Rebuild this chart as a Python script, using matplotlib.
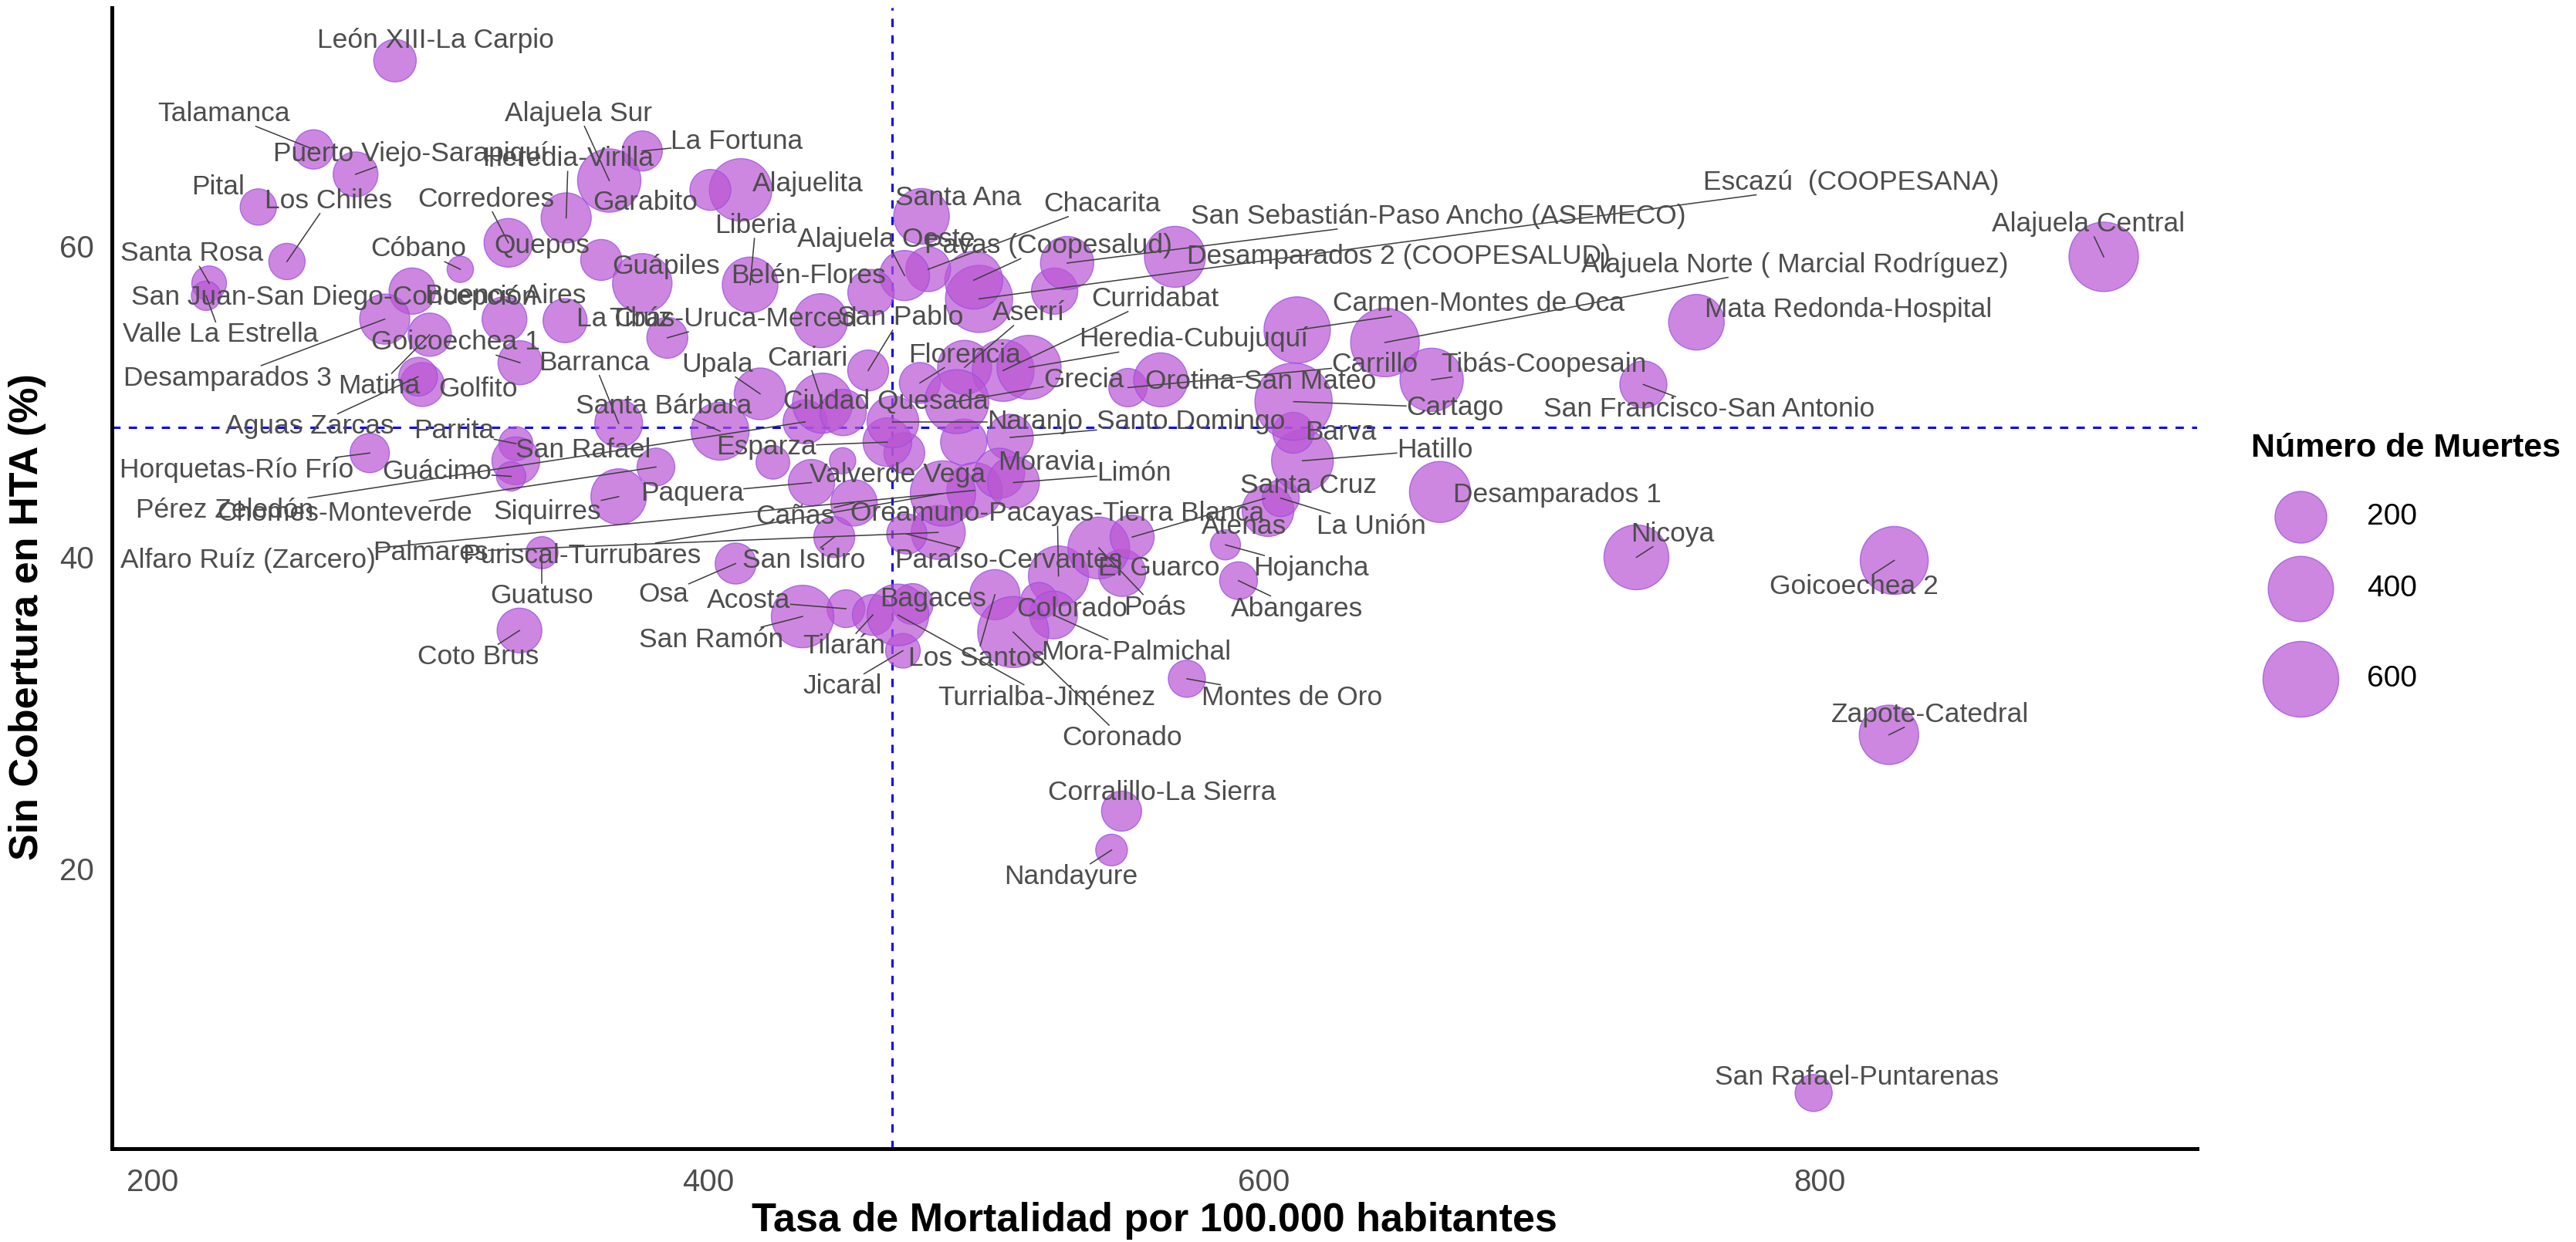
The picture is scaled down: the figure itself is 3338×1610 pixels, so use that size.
import numpy as np
import matplotlib
matplotlib.use("Agg")
import matplotlib.pyplot as plt

plt.rcParams['font.family'] = ['Liberation Sans', 'DejaVu Sans']

# ---------------- data ----------------
areas = [
    "León XIII-La Carpio", "Talamanca", "Puerto Viejo-Sarapiquí", "Pital", "Los Chiles",
    "Santa Rosa", "Valle La Estrella", "Cóbano", "Corredores", "Heredia-Virilla",
    "Alajuela Sur", "La Fortuna", "Quepos", "Guápiles", "San Juan-San Diego-Concepción",
    "Desamparados 3", "Matina", "Buenos Aires", "La Cruz", "Tibás-Uruca-Merced",
    "Goicoechea 1", "Golfito", "Aguas Zarcas", "Horquetas-Río Frío", "Parrita",
    "San Rafael", "Guácimo", "Barranca", "Santa Bárbara", "Chomes-Monteverde",
    "Pérez Zeledón", "Siquirres", "Paquera", "Alfaro Ruíz (Zarcero)", "Palmares",
    "Puriscal-Turrubares", "Guatuso", "Coto Brus", "Osa", "San Isidro",
    "Cañas", "Valverde Vega", "Acosta", "San Ramón", "Tilarán",
    "Bagaces", "Jicaral", "Los Santos", "Turrialba-Jiménez", "Paraíso-Cervantes",
    "Oreamuno-Pacayas-Tierra Blanca", "Colorado", "Mora-Palmichal", "Coronado", "El Guarco",
    "Poás", "Santa Cruz", "Atenas", "La Unión", "Hojancha",
    "Abangares", "Montes de Oro", "Corralillo-La Sierra", "Nandayure", "San Rafael-Puntarenas",
    "Zapote-Catedral", "Goicoechea 2", "Nicoya", "Desamparados 1", "Hatillo",
    "Barva", "Cartago", "San Francisco-San Antonio", "Tibás-Coopesain", "Carrillo",
    "Orotina-San Mateo", "Carmen-Montes de Oca", "Alajuela Norte ( Marcial Rodríguez)",
    "Mata Redonda-Hospital", "Alajuela Central",
    "Escazú  (COOPESANA)", "San Sebastián-Paso Ancho (ASEMECO)", "Desamparados 2 (COOPESALUD)",
    "Pavas (Coopesalud)", "Chacarita",
    "Alajuela Oeste", "Santa Ana", "Belén-Flores", "Liberia", "Alajuelita",
    "Garabito", "San Pablo", "Cariari", "Upala", "Ciudad Quesada",
    "Esparza", "Naranjo", "Santo Domingo", "Florencia", "Aserrí",
    "Curridabat", "Heredia-Cubujuquí", "Grecia", "Moravia", "Limón",
]

tasa = [
    287.2, 257.9, 273.0, 238.0, 248.3,
    220.3, 219.2, 310.7, 328.0, 348.8,
    364.3, 376.2, 361.4, 376.2, 293.4,
    283.5, 299.7, 326.6, 348.4, 385.2,
    332.2, 297.0, 295.5, 278.1, 330.7,
    330.7, 329.0, 367.7, 404.2, 381.1,
    434.8, 367.7, 437.1, 495.8, 482.7,
    484.4, 340.1, 332.0, 409.8, 445.3,
    452.4, 448.3, 449.5, 433.9, 459.2,
    473.5, 470.0, 503.1, 468.2, 471.4,
    526.0, 519.0, 524.2, 509.7, 548.9,
    540.5, 552.5, 601.4, 606.0, 586.1,
    590.8, 572.2, 548.7, 545.1, 797.8,
    824.9, 826.8, 734.0, 663.3, 613.8,
    610.5, 610.6, 736.5, 660.3, 551.0,
    562.8, 611.9, 643.5, 755.6, 902.2,
    497.4, 529.1, 567.9, 495.5, 479.1,
    470.6, 476.7, 458.5, 415.0, 411.6,
    400.7, 457.5, 441.1, 418.6, 448.5,
    464.4, 466.4, 508.6, 476.1, 492.2,
    506.1, 515.4, 489.4, 504.8, 509.8,
]

sin_cobertura = [
    71.9, 66.2, 64.6, 62.5, 59.0,
    57.6, 56.8, 58.5, 60.2, 61.8,
    64.2, 66.1, 59.1, 57.6, 57.1,
    55.3, 54.3, 55.3, 55.2, 54.1,
    52.5, 51.1, 51.6, 46.7, 47.3,
    46.2, 45.2, 48.6, 48.1, 45.8,
    48.7, 43.9, 44.8, 44.3, 41.6,
    44.1, 40.3, 35.3, 39.6, 41.3,
    43.5, 46.2, 36.7, 36.2, 36.3,
    37.0, 34.0, 37.6, 36.3, 41.5,
    38.8, 37.2, 36.3, 35.2, 39.0,
    40.6, 41.3, 43.0, 43.8, 40.8,
    38.5, 32.2, 23.7, 21.2, 5.6,
    28.6, 39.8, 40.0, 44.2, 46.2,
    48.0, 50.0, 51.1, 51.4, 50.9,
    51.4, 54.6, 53.8, 55.1, 59.3,
    56.6, 58.9, 59.3, 57.8, 58.5,
    58.1, 61.9, 57.0, 57.5, 63.6,
    63.6, 52.0, 49.9, 50.5, 49.3,
    47.4, 48.7, 47.7, 51.2, 52.2,
    52.0, 52.2, 50.0, 45.4, 44.8,
]

muertes = [
    103, 77, 124, 56, 56,
    46, 20, 10, 164, 181,
    366, 83, 90, 305, 139,
    181, 110, 124, 117, 90,
    117, 117, 72, 77, 42,
    155, 20, 155, 282, 66,
    117, 250, 139, 250, 229,
    400, 32, 124, 90, 90,
    139, 10, 66, 353, 90,
    90, 46, 181, 341, 83,
    316, 60, 155, 505, 147,
    341, 117, 200, 60, 23,
    66, 61, 83, 30, 61,
    305, 447, 392, 329, 341,
    90, 632, 147, 366, 70,
    229, 419, 460, 250, 475,
    433, 219, 329, 282, 124,
    181, 250, 139, 250, 353,
    90, 90, 316, 200, 139,
    164, 200, 139, 90, 229,
    341, 379, 379, 181, 200,
]

# areas whose labels were not placed
tasa_sin_etiqueta = [440.4, 470.5, 491.9, 423.2, 524.6]
cob_sin_etiqueta = [55.2, 46.7, 47.4, 46.1, 57.1]
muertes_sin_etiqueta = [229, 90, 139, 40, 139]

# mean reference lines
media_tasa = 466.1
media_cobertura = 48.35

x_ticks = [200, 400, 600, 800]
y_ticks = [20, 40, 60]
legend_breaks = [200, 400, 600]

# ---------------- label layout (text centres, data units) ----------------
label_x = [
    301.7, 225.6, 292.9, 223.6, 263.3,
    214.2, 224.3, 295.6, 319.9, 349.5,
    353.3, 410.3, 340.1, 384.7, 265.3,
    226.9, 281.5, 327.1, 369.7, 409.0,
    309.1, 317.2, 256.6, 230.3, 308.4,
    354.9, 302.4, 358.9, 383.9, 269.0,
    226.0, 342.1, 394.2, 234.4, 300.0,
    354.4, 340.1, 317.2, 383.9, 434.4,
    431.1, 468.1, 414.6, 401.1, 448.9,
    480.8, 448.3, 496.5, 521.8, 508.0,
    525.6, 530.8, 553.9, 548.9, 562.2,
    560.8, 616.0, 592.7, 638.6, 616.8,
    611.9, 610.0, 563.3, 530.4, 813.3,
    839.7, 812.2, 747.0, 705.5, 661.4,
    627.7, 668.6, 760.1, 700.6, 639.8,
    598.9, 677.2, 791.1, 810.4, 896.6,
    811.3, 662.7, 648.4, 522.4, 541.7,
    463.9, 489.9, 436.1, 417.0, 435.7,
    377.2, 469.1, 435.7, 403.1, 464.0,
    420.9, 517.5, 573.6, 492.3, 515.2,
    560.7, 574.5, 535.0, 521.7, 553.1,
]
label_y = [
    73.2, 68.5, 65.9, 63.8, 62.9,
    59.5, 54.3, 59.8, 63.0, 65.6,
    68.5, 66.7, 60.0, 58.7, 56.7,
    51.5, 51.0, 56.8, 55.3, 55.3,
    53.8, 50.8, 48.4, 45.6, 48.1,
    46.9, 45.5, 52.5, 49.7, 42.8,
    43.0, 42.9, 44.1, 39.8, 40.3,
    40.1, 37.5, 33.6, 37.6, 39.8,
    42.6, 45.3, 37.2, 34.7, 34.3,
    37.3, 31.7, 33.5, 31.0, 39.8,
    42.8, 36.7, 33.9, 28.4, 39.3,
    36.8, 44.6, 42.0, 42.0, 39.3,
    36.7, 31.0, 24.9, 19.5, 6.6,
    29.9, 38.1, 41.5, 44.0, 46.9,
    48.0, 49.6, 49.5, 52.4, 52.4,
    51.3, 56.3, 58.8, 55.9, 61.4,
    64.1, 61.9, 59.3, 60.0, 62.7,
    60.4, 63.1, 58.1, 61.3, 64.0,
    62.8, 55.4, 52.8, 52.4, 50.0,
    47.1, 48.7, 48.7, 53.0, 55.7,
    56.6, 54.0, 51.4, 46.1, 45.4,
]

# ---------------- figure ----------------
W, H, DPI = 3338, 1610, 100
fig = plt.figure(figsize=(W / DPI, H / DPI), dpi=DPI, facecolor="white")

left_px, right_px, top_px, bottom_px = 145, 2847, 10, 1489
ax = fig.add_axes([left_px / W, 1 - bottom_px / H,
                   (right_px - left_px) / W, (bottom_px - top_px) / H])
ax.set_xlim(185.3, 935.8)
ax.set_ylim(2.02, 75.3)


def marker_area(v):
    """scatter area (pt^2) for a number of deaths"""
    d_px = 24.6 + 3.0 * np.sqrt(np.asarray(v, dtype=float))
    return (d_px * 72.0 / DPI) ** 2


fill = (0.729, 0.333, 0.827, 0.70)   # mediumorchid, alpha .7
edge = (0.60, 0.30, 0.90, 0.75)

ax.scatter(tasa_sin_etiqueta, cob_sin_etiqueta, s=marker_area(muertes_sin_etiqueta),
           facecolor=fill, edgecolor=edge, linewidth=1.0, zorder=2)
ax.scatter(tasa, sin_cobertura, s=marker_area(muertes),
           facecolor=fill, edgecolor=edge, linewidth=1.0, zorder=2)

ax.axvline(media_tasa, color="blue", lw=2.2, ls=(0, (3.5, 3.5)), zorder=1.5)
ax.axhline(media_cobertura, color="blue", lw=2.2, ls=(0, (3.5, 3.5)), zorder=1.5)

# axes styling
for side in ("top", "right"):
    ax.spines[side].set_visible(False)
for side in ("left", "bottom"):
    ax.spines[side].set_linewidth(3.6)
    ax.spines[side].set_color("black")
ax.set_xticks(x_ticks)
ax.set_yticks(y_ticks)
ax.tick_params(axis="both", length=0, labelsize=29, labelcolor="#4D4D4D")
ax.tick_params(axis="x", pad=18)
ax.tick_params(axis="y", pad=17)

fig.text((left_px + right_px) / 2 / W, 1 - 1582 / H,
         "Tasa de Mortalidad por 100.000 habitantes",
         ha="center", va="center", fontsize=37.5, fontweight="bold")
fig.text(36 / W, 1 - 800 / H, "Sin Cobertura en HTA (%)",
         ha="center", va="center", rotation=90, fontsize=37.5, fontweight="bold")

# labels
texts = []
for name, lx, ly in zip(areas, label_x, label_y):
    texts.append(ax.text(lx, ly, name, ha="center", va="center", fontsize=25.5,
                         color="#4D4D4D", zorder=4))

# leader segments from label box to the point
fig.canvas.draw()
renderer = fig.canvas.get_renderer()
inv = ax.transData.inverted()
for t, px, py in zip(texts, tasa, sin_cobertura):
    bb = t.get_window_extent(renderer)
    p = ax.transData.transform((px, py))
    cx, cy = (bb.x0 + bb.x1) / 2, (bb.y0 + bb.y1) / 2
    dx, dy = p[0] - cx, p[1] - cy
    tx = (bb.width / 2) / abs(dx) if dx else np.inf
    ty = (bb.height / 2) / abs(dy) if dy else np.inf
    tt = min(tx, ty)
    if tt >= 1:
        continue
    sx, sy = cx + dx * tt, cy + dy * tt
    if np.hypot(p[0] - sx, p[1] - sy) < 22:
        continue
    (x0, y0), (x1, y1) = inv.transform([(sx, sy), (p[0], p[1])])
    ax.plot([x0, x1], [y0, y1], color="#3C3C3C", lw=1.1, zorder=3)

# size legend
lax = fig.add_axes([0, 0, 1, 1], facecolor="none")
lax.set_xlim(0, W)
lax.set_ylim(H, 0)
lax.axis("off")
lax.text(2917, 581, "Número de Muertes", ha="left", va="center", fontsize=31,
         fontweight="bold")
for val, yy in zip(legend_breaks, [670, 763, 880]):
    lax.scatter([2981], [yy], s=marker_area([val]), facecolor=fill, edgecolor=edge,
                linewidth=1.0)
    lax.text(3067, yy, str(val), ha="left", va="center", fontsize=28, color="black")

fig.savefig("out.png", dpi=DPI, facecolor="white")
